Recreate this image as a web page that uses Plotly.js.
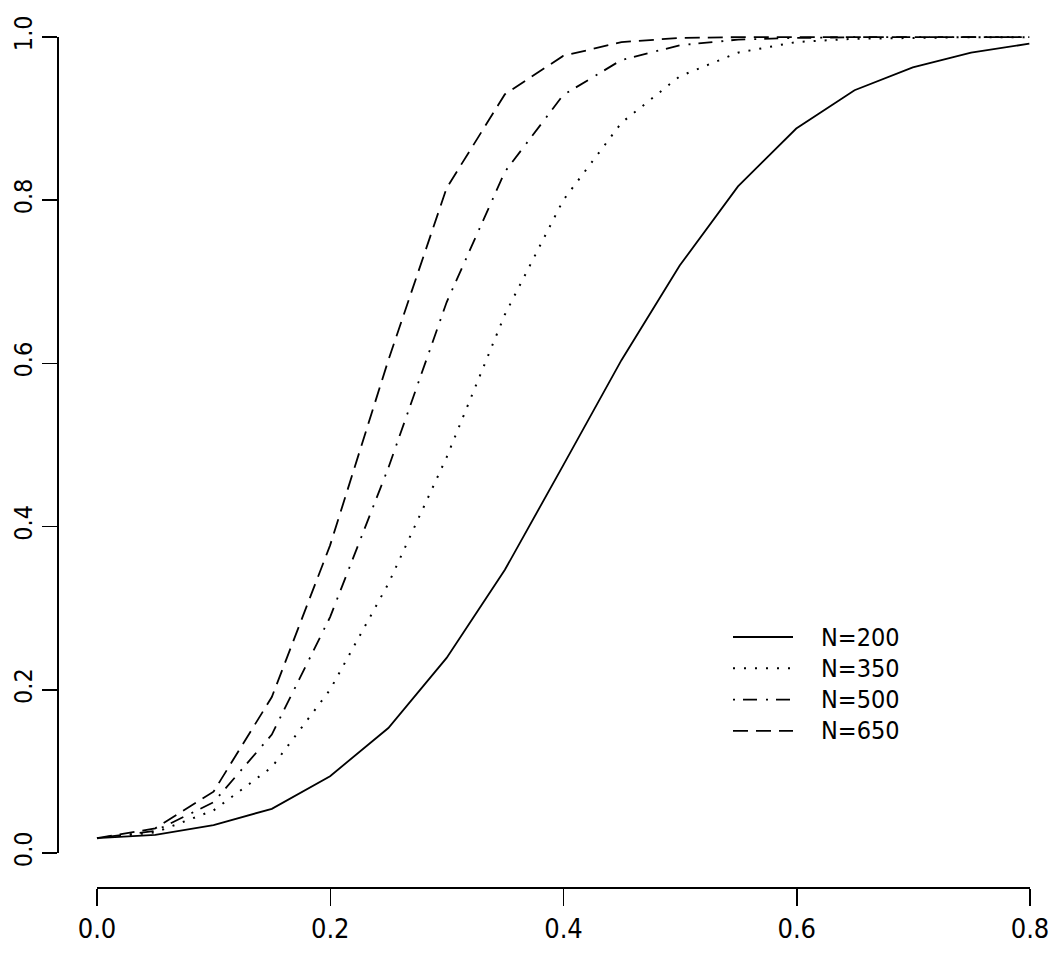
<!DOCTYPE html>
<html>
<head>
<meta charset="utf-8">
<script src="https://cdn.plot.ly/plotly-3.0.1.min.js"></script>
<style>html,body{margin:0;padding:0;background:#fff;}#chart{width:1050px;height:956px;}</style>
</head>
<body>
<div id="chart"></div>
<script>
// effect size (x) grid
const effect = [0, 0.05, 0.10, 0.15, 0.20, 0.25, 0.30, 0.35, 0.40, 0.45, 0.50, 0.55, 0.60, 0.65, 0.70, 0.75, 0.80];
// estimated power for each sample size
const powerN200 = [0.018, 0.022, 0.034, 0.054, 0.094, 0.153, 0.239, 0.347, 0.475, 0.604, 0.720, 0.817, 0.888, 0.935, 0.963, 0.981, 0.992];
const powerN350 = [0.018, 0.025, 0.052, 0.105, 0.200, 0.330, 0.485, 0.660, 0.800, 0.895, 0.952, 0.981, 0.994, 0.998, 0.999, 1.000, 1.000];
const powerN500 = [0.018, 0.027, 0.062, 0.145, 0.289, 0.472, 0.675, 0.835, 0.929, 0.972, 0.990, 0.997, 0.999, 1.000, 1.000, 1.000, 1.000];
const powerN650 = [0.018, 0.030, 0.075, 0.191, 0.377, 0.604, 0.815, 0.930, 0.977, 0.994, 0.999, 1.000, 1.000, 1.000, 1.000, 1.000, 1.000];
const seriesNames = ["N=200", "N=350", "N=500", "N=650"];
const xTicks = [0.0, 0.2, 0.4, 0.6, 0.8];
const xTickText = ["0.0", "0.2", "0.4", "0.6", "0.8"];
const yTicks = [0.0, 0.2, 0.4, 0.6, 0.8, 1.0];
const yTickText = ["0.0", "0.2", "0.4", "0.6", "0.8", "1.0"];

const FONT = "'Liberation Sans Narrow', 'DejaVu Sans Condensed', 'Arial Narrow', sans-serif";
const dashes = ["solid", "2px,9px", "2px,8px,14px,9px", "15px,8px"];
const widths = [1.8, 2, 1.8, 1.8];
const allY = [powerN200, powerN350, powerN500, powerN650];

const traces = allY.map((ys, i) => ({
  type: "scatter", mode: "lines", x: effect, y: ys, name: seriesNames[i],
  line: {color: "#000", width: widths[i], dash: dashes[i]},
  showlegend: false, hoverinfo: "x+y"
}));
// carrier for the detached R-style axes
traces.push({type: "scatter", mode: "lines", x: [], y: [], xaxis: "x2", yaxis: "y2", showlegend: false, hoverinfo: "skip"});

// manual legend (R style)
const legTop = 637, legStep = 31.3;
const shapes = [], annotations = [];
seriesNames.forEach((nm, i) => {
  const yy = legTop + i * legStep;
  shapes.push({type: "line", xref: "paper", yref: "paper", layer: "above",
    x0: (733 - 57) / 984, x1: (793 - 57) / 984,
    y0: (887 - yy) / 858, y1: (887 - yy) / 858,
    line: {color: "#000", width: widths[i], dash: dashes[i]}});
  annotations.push({xref: "paper", yref: "paper", x: (819 - 57) / 984, y: (887 - yy) / 858,
    xanchor: "left", yanchor: "middle", showarrow: false, text: nm,
    font: {family: FONT, size: 25, color: "#000"}});
});

const layout = {
  width: 1050, height: 956,
  margin: {l: 57, r: 9, t: 29, b: 69, pad: 0},
  paper_bgcolor: "#fff", plot_bgcolor: "rgba(0,0,0,0)",
  showlegend: false,
  xaxis: {range: [-0.01, 0.81], domain: [0.0288, 1], visible: false, showgrid: false, zeroline: false},
  yaxis: {range: [-0.01, 1.01], domain: [0.0303, 1], visible: false, showgrid: false, zeroline: false},
  xaxis2: {anchor: "free", position: 0, range: [0, 0.8],
    domain: [(97 - 57) / 984, (1030 - 57) / 984],
    tickmode: "array", tickvals: xTicks, ticktext: xTickText,
    ticks: "outside", ticklen: 17, tickwidth: 1.5, tickcolor: "#000",
    showline: true, linecolor: "#000", linewidth: 1.5,
    showgrid: false, zeroline: false,
    tickfont: {family: FONT, size: 27, color: "#000"}},
  yaxis2: {anchor: "free", position: 0, range: [0, 1],
    domain: [(887 - 853) / 858, (887 - 37) / 858],
    tickmode: "array", tickvals: yTicks, ticktext: yTickText,
    ticks: "outside", ticklen: 15, tickwidth: 1.5, tickcolor: "#000",
    showline: true, linecolor: "#000", linewidth: 1.5,
    showgrid: false, zeroline: false, tickangle: -90,
    tickfont: {family: FONT, size: 25, color: "#000"}},
  shapes: shapes, annotations: annotations
};

Plotly.newPlot("chart", traces, layout, {displayModeBar: false, staticPlot: true});
</script>
</body>
</html>
